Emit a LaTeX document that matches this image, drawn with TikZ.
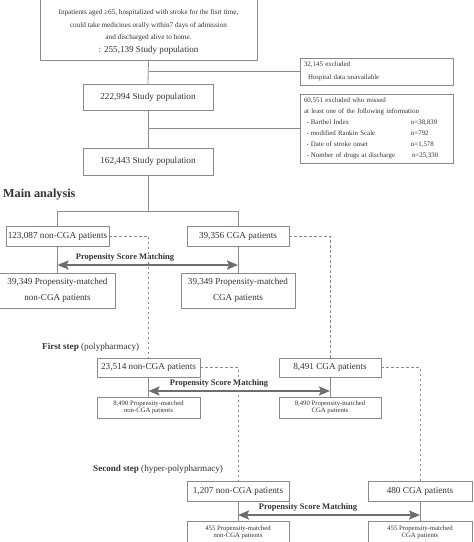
\documentclass[tikz,border=0pt]{standalone}
\usepackage{fontspec}
\setmainfont{Liberation Serif}
\usetikzlibrary{arrows.meta}
\definecolor{boxgray}{HTML}{8A8A8A}
\definecolor{txt}{HTML}{333333}
\definecolor{arrgray}{HTML}{6E6E6E}
\newcommand{\bul}{{\fontsize{4.5}{5}\selectfont\raisebox{0.6pt}{•}}}
\tikzset{
  box/.style={draw=boxgray, line width=0.8pt, rectangle, inner sep=0pt, align=center, text=txt,
    font=\fontsize{9.2}{10}\selectfont},
  smallbox/.style={box, font=\fontsize{6.7}{7}\selectfont},
  conn/.style={draw=boxgray, line width=0.8pt},
  dsh/.style={draw=boxgray, line width=0.7pt, dash pattern=on 2.5pt off 2.5pt},
  psm/.style={draw=arrgray, line width=2pt, {Stealth[length=11pt,width=9pt,inset=2pt]}-{Stealth[length=11pt,width=9pt,inset=2pt]}},
  psmlabel/.style={text=txt, font=\fontsize{8.5}{9}\selectfont\bfseries, inner sep=0pt},
  steplabel/.style={text=txt, font=\fontsize{9.1}{10}\selectfont, anchor=west, inner sep=0pt},
}
\begin{document}
\begin{tikzpicture}[x=1pt,y=-1pt]
\useasboundingbox (0,0) rectangle (474,542);
% top box
\node[box, minimum width=217pt, minimum height=75pt] (top) at (148.5,22.5) {};
\node[text=txt, align=center, inner sep=0pt, font=\fontsize{7.2}{12.7}\selectfont] (toptxt) at (148.5,32)
 {Inpatients aged ≥65, hospitalized with stroke for the fisrt time,\\
  could take medicines orally within7 days of admission\\
  and discharged alive to home.\\
  {\fontsize{9.1}{12.7}\selectfont : 255,139 Study population}};
% exclusion boxes
\node[box, minimum width=153pt, minimum height=27pt, align=left, text width=145pt,
  font=\fontsize{6.9}{13}\selectfont] (ex1) at (376.5,71.5)
 {32,145 excluded\\\hspace*{4pt}Hospital data unavailable};
\node[box, minimum width=153pt, minimum height=69pt, align=left, text width=145pt,
  font=\fontsize{6.9}{11}\selectfont] (ex2) at (376.5,128.5)
 {60,551 excluded who missed\\
  at least one of the following information\\
  \makebox[107pt][l]{\hspace*{3pt}\bul\ Barthel Index}n=38,839\\
  \makebox[107pt][l]{\hspace*{3pt}\bul\ modified Rankin Scale}n=792\\
  \makebox[107pt][l]{\hspace*{3pt}\bul\ Date of stroke onset}n=1,578\\
  \makebox[108pt][l]{\hspace*{3pt}\bul\ Number of drugs at discharge}n=25,330};
% population boxes
\node[box, minimum width=130pt, minimum height=26pt] (pop2) at (148,97) {222,994 Study population};
\node[box, minimum width=130pt, minimum height=27pt] (pop3) at (148,161.5) {162,443 Study population};
\draw[conn] (top.south) -- (pop2.north);
\draw[conn] (pop2.south) -- (pop3.north);
\draw[conn] (top.south |- ex1.west) -- (ex1.west);
\draw[conn] (pop2.south |- ex2.west) -- (ex2.west);
% Main analysis
\node[text=txt, anchor=west, inner sep=0pt, font=\fontsize{12.2}{13}\selectfont\bfseries] (main) at (3,195) {Main analysis};
\node[box, minimum width=103pt, minimum height=20pt] (n1) at (57.5,236) {123,087 non-CGA patients};
\node[box, minimum width=102pt, minimum height=20pt] (c1) at (238,236) {39,356 CGA patients};
\node[box, minimum width=116pt, minimum height=35pt, font=\fontsize{9.1}{16}\selectfont] (mn1) at (57.5,290.5) {39,349 Propensity-matched\\non-CGA patients};
\node[box, minimum width=114pt, minimum height=35pt, font=\fontsize{9.1}{16}\selectfont] (mc1) at (238,290.5) {39,349 Propensity-matched\\CGA patients};
\draw[conn] (pop3.south) -- ++(0,36) coordinate (br);
\draw[conn] (n1.north) |- (br) -| (c1.north);
\draw[conn] (n1.south) -- (mn1.north);
\draw[conn] (c1.south) -- (mc1.north);
\coordinate (a1l) at (n1.south |- 0,265);
\coordinate (a1r) at (c1.south |- 0,265);
\draw[psm] (a1l) -- (a1r);
\node[psmlabel] (l1) at (125,257) {Propensity Score Matching};
% First step
\node[steplabel] (s1) at (42,347) {\textbf{First step} (polypharmacy)};
\node[box, minimum width=103pt, minimum height=19pt] (n2) at (148.5,367.5) {23,514 non-CGA patients};
\node[box, minimum width=102pt, minimum height=19pt] (c2) at (330,367.5) {8,491 CGA patients};
\node[smallbox, minimum width=103pt, minimum height=21pt] (mn2) at (148.5,407.5) {8,490 Propensity-matched\\non-CGA patients};
\node[smallbox, minimum width=102pt, minimum height=21pt] (mc2) at (330,407.5) {8,490 Propensity-matched\\CGA patients};
\draw[dsh] (n1.east) -| (n2.north);
\draw[dsh] (c1.east) -| (c2.north);
\draw[conn] (n2.south) -- (mn2.north);
\draw[conn] (c2.south) -- (mc2.north);
\coordinate (a2l) at (n2.south |- 0,391);
\coordinate (a2r) at (c2.south |- 0,391);
\draw[psm] (a2l) -- (a2r);
\node[psmlabel] (l2) at (219,383) {Propensity Score Matching};
% Second step
\node[steplabel] (s2) at (93,469) {\textbf{Second step} (hyper-polypharmacy)};
\node[box, minimum width=102pt, minimum height=20pt] (n3) at (238,491) {1,207 non-CGA patients};
\node[box, minimum width=104pt, minimum height=20pt] (c3) at (420,491) {480 CGA patients};
\node[smallbox, minimum width=102pt, minimum height=22pt] (mn3) at (238,532) {455 Propensity-matched\\non-CGA patients};
\node[smallbox, minimum width=104pt, minimum height=22pt] (mc3) at (420,532) {455 Propensity-matched\\CGA patients};
\draw[dsh] (n2.east) -| (n3.north);
\draw[dsh] (c2.east) -| (c3.north);
\draw[conn] (n3.south) -- (mn3.north);
\draw[conn] (c3.south) -- (mc3.north);
\coordinate (a3l) at (n3.south |- 0,515);
\coordinate (a3r) at (c3.south |- 0,515);
\draw[psm] (a3l) -- (a3r);
\node[psmlabel] (l3) at (308,507) {Propensity Score Matching};
\end{tikzpicture}
\end{document}
